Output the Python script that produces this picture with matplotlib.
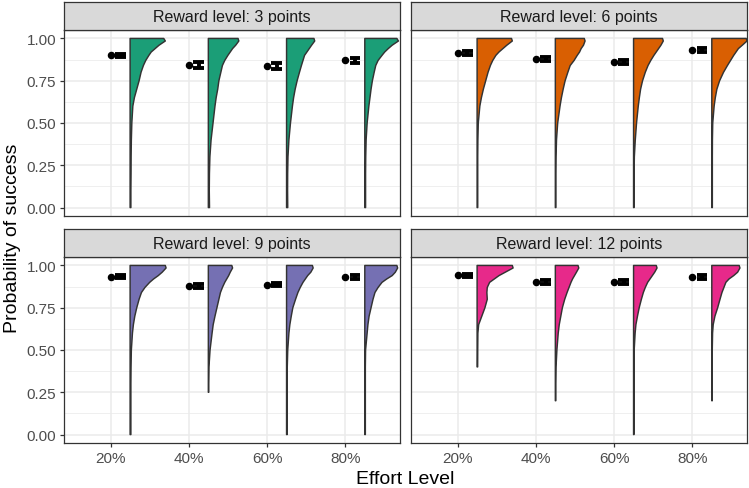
import numpy as np
import matplotlib
matplotlib.use("Agg")
import matplotlib.pyplot as plt

plt.rcParams['font.family'] = ['Liberation Sans', 'DejaVu Sans']

# ---------------- data ----------------
effort_labels = ["20%", "40%", "60%", "80%"]
reward_titles = ["Reward level: 3 points", "Reward level: 6 points",
                 "Reward level: 9 points", "Reward level: 12 points"]
colors = ["#1B9E77", "#D95F02", "#7570B3", "#E7298A"]

# mean probability of success per reward level x effort level
means_3 = [0.900, 0.843, 0.837, 0.872]
means_6 = [0.915, 0.878, 0.861, 0.930]
means_9 = [0.934, 0.877, 0.887, 0.930]
means_12 = [0.941, 0.904, 0.904, 0.932]
# standard errors
se_3 = [0.011, 0.015, 0.015, 0.015]
se_6 = [0.011, 0.011, 0.011, 0.011]
se_9 = [0.011, 0.011, 0.011, 0.011]
se_12 = [0.011, 0.011, 0.011, 0.011]

# violin half-width profiles at these probability levels
dens_y = [1.0, 0.985, 0.96, 0.94, 0.92, 0.9, 0.87, 0.84, 0.8, 0.75, 0.7,
          0.65, 0.6, 0.5, 0.4, 0.3, 0.2, 0.1, 0.0]
nan = np.nan
# minimum observed value per violin
ymin_3 = [0.0, 0.0, 0.0, 0.0]
ymin_6 = [0.0, 0.0, 0.0, 0.0]
ymin_9 = [0.0, 0.25, 0.0, 0.0]
ymin_12 = [0.40, 0.20, 0.0, 0.20]

dens_3 = [
    [0.43, 0.45, 0.37, 0.32, 0.27, 0.24, 0.20, 0.17, 0.14, 0.115, 0.085, 0.055, 0.035, 0.022, 0.016, 0.013, 0.012, 0.010, 0.010],
    [0.38, 0.39, 0.35, 0.31, 0.28, 0.25, 0.21, 0.18, 0.16, 0.135, 0.12, 0.10, 0.085, 0.06, 0.035, 0.02, 0.014, 0.012, 0.015],
    [0.35, 0.36, 0.32, 0.29, 0.26, 0.23, 0.21, 0.19, 0.165, 0.135, 0.11, 0.09, 0.075, 0.05, 0.03, 0.018, 0.014, 0.013, 0.015],
    [0.41, 0.43, 0.35, 0.30, 0.255, 0.22, 0.17, 0.14, 0.12, 0.097, 0.08, 0.066, 0.052, 0.03, 0.017, 0.012, 0.010, 0.010, 0.010],
]
dens_6 = [
    [0.44, 0.45, 0.38, 0.33, 0.28, 0.24, 0.20, 0.17, 0.14, 0.11, 0.08, 0.055, 0.035, 0.015, 0.010, 0.008, 0.008, 0.008, 0.008],
    [0.37, 0.38, 0.36, 0.33, 0.31, 0.28, 0.24, 0.19, 0.16, 0.125, 0.10, 0.078, 0.06, 0.03, 0.015, 0.009, 0.007, 0.007, 0.007],
    [0.37, 0.38, 0.35, 0.32, 0.29, 0.26, 0.22, 0.185, 0.15, 0.115, 0.09, 0.074, 0.06, 0.038, 0.022, 0.010, 0.007, 0.007, 0.007],
    [0.44, 0.45, 0.39, 0.34, 0.31, 0.28, 0.24, 0.20, 0.15, 0.10, 0.065, 0.045, 0.03, 0.012, 0.008, 0.007, 0.007, 0.007, 0.007],
]
dens_9 = [
    [0.45, 0.46, 0.41, 0.36, 0.30, 0.25, 0.19, 0.145, 0.115, 0.085, 0.06, 0.042, 0.03, 0.016, 0.012, 0.010, 0.010, 0.010, 0.010],
    [0.30, 0.31, 0.28, 0.26, 0.235, 0.21, 0.18, 0.155, 0.135, 0.11, 0.085, 0.062, 0.048, 0.022, 0.008, 0.005, nan, nan, nan],
    [0.33, 0.34, 0.31, 0.27, 0.24, 0.21, 0.175, 0.145, 0.115, 0.08, 0.06, 0.042, 0.03, 0.015, 0.009, 0.008, 0.008, 0.008, 0.008],
    [0.41, 0.42, 0.39, 0.35, 0.28, 0.22, 0.17, 0.13, 0.105, 0.08, 0.055, 0.04, 0.03, 0.010, 0.007, 0.007, 0.007, 0.007, 0.007],
]
dens_12 = [
    [0.45, 0.46, 0.36, 0.28, 0.22, 0.16, 0.13, 0.125, 0.13, 0.10, 0.06, 0.02, 0.010, 0.008, 0.007, nan, nan, nan, nan],
    [0.29, 0.30, 0.27, 0.245, 0.22, 0.20, 0.175, 0.15, 0.12, 0.09, 0.07, 0.05, 0.037, 0.02, 0.009, 0.006, 0.006, nan, nan],
    [0.29, 0.30, 0.27, 0.24, 0.21, 0.18, 0.15, 0.125, 0.10, 0.072, 0.05, 0.03, 0.02, 0.008, 0.006, 0.006, 0.006, 0.006, 0.006],
    [0.35, 0.36, 0.33, 0.28, 0.22, 0.18, 0.155, 0.13, 0.105, 0.075, 0.04, 0.018, 0.010, 0.006, 0.006, 0.006, 0.006, nan, nan],
]

panels = [
    (reward_titles[0], colors[0], means_3, se_3, dens_3, ymin_3),
    (reward_titles[1], colors[1], means_6, se_6, dens_6, ymin_6),
    (reward_titles[2], colors[2], means_9, se_9, dens_9, ymin_9),
    (reward_titles[3], colors[3], means_12, se_12, dens_12, ymin_12),
]

# ---------------- layout ----------------
W, H = 749, 489
fig = plt.figure(figsize=(W / 100, H / 100), dpi=100)
lefts = [64, 411]
pw = 336
tops = [31, 258]
ph = 186
strip_h = 28

border = "#333333"
grid_c = "#EBEBEB"

x_pos = np.arange(1, 5)

for i, (title, col, means, ses, dens, ymins) in enumerate(panels):
    r, c = divmod(i, 2)
    l = lefts[c] / W
    b = 1 - (tops[r] + ph) / H
    ax = fig.add_axes([l, b, pw / W, ph / H])
    ax.set_xlim(0.405, 4.70)
    ax.set_ylim(-0.05, 1.05)
    ax.set_facecolor("white")
    for s in ax.spines.values():
        s.set_color(border)
        s.set_linewidth(0.9)
        s.set_zorder(10)
    # grid
    for yv in [0.125, 0.375, 0.625, 0.875]:
        ax.axhline(yv, color=grid_c, lw=0.55, zorder=0)
    for yv in [0, 0.25, 0.5, 0.75, 1.0]:
        ax.axhline(yv, color=grid_c, lw=1.1, zorder=0)
    for xv in x_pos:
        ax.axvline(xv, color=grid_c, lw=1.1, zorder=0)

    # half violins
    for j in range(4):
        base = x_pos[j] + 0.25
        w = np.array(dens[j], dtype=float)
        yy = np.array(dens_y, dtype=float)
        ok = ~np.isnan(w) & (yy >= ymins[j] - 1e-9)
        yv = yy[ok]
        wv = w[ok]
        if yv[-1] > ymins[j]:
            yv = np.append(yv, ymins[j])
            wv = np.append(wv, wv[-1])
        xs = np.concatenate([[base], base + wv, [base]])
        ys = np.concatenate([[1.0], yv, [ymins[j]]])
        ax.fill(xs, ys, facecolor=col, edgecolor="#333333", lw=1.05,
                joinstyle="round", zorder=3)

    # mean points and error bars
    ax.plot(x_pos, means, "o", color="black", ms=4.4, zorder=4)
    ex = x_pos + 0.125
    lo = np.array(means) - np.array(ses)
    hi = np.array(means) + np.array(ses)
    ax.hlines(lo, ex - 0.07, ex + 0.07, color="black", lw=2.8, zorder=4)
    ax.hlines(hi, ex - 0.07, ex + 0.07, color="black", lw=2.8, zorder=4)
    ax.vlines(ex, lo, hi, color="black", lw=2.8, zorder=4)

    # ticks
    ax.set_yticks([0, 0.25, 0.5, 0.75, 1.0])
    ax.set_xticks(x_pos)
    ax.tick_params(axis="both", which="major", length=3.2, width=0.9,
                   color=border, labelsize=11, labelcolor="#4D4D4D", pad=2.5)
    if c == 0:
        ax.set_yticklabels(["0.00", "0.25", "0.50", "0.75", "1.00"])
    else:
        ax.tick_params(axis="y", left=False, labelleft=False)
    if r == 1:
        ax.set_xticklabels(effort_labels)
    else:
        ax.tick_params(axis="x", bottom=False, labelbottom=False)

    # strip
    sax = fig.add_axes([l, 1 - tops[r] / H, pw / W, strip_h / H])
    sax.set_facecolor("#D9D9D9")
    sax.set_xticks([])
    sax.set_yticks([])
    for s in sax.spines.values():
        s.set_color(border)
        s.set_linewidth(0.9)
    sax.text(0.5, 0.47, title, ha="center", va="center", fontsize=11.5,
             color="#1A1A1A", transform=sax.transAxes)

fig.text((64 + 747) / 2 / W, 1 - 480 / H, "Effort Level", ha="center",
         va="center", fontsize=14)
fig.text(13 / W, 1 - 238 / H, "Probability of success", ha="center",
         va="center", rotation=90, fontsize=14)

fig.savefig("out.png", dpi=100)
